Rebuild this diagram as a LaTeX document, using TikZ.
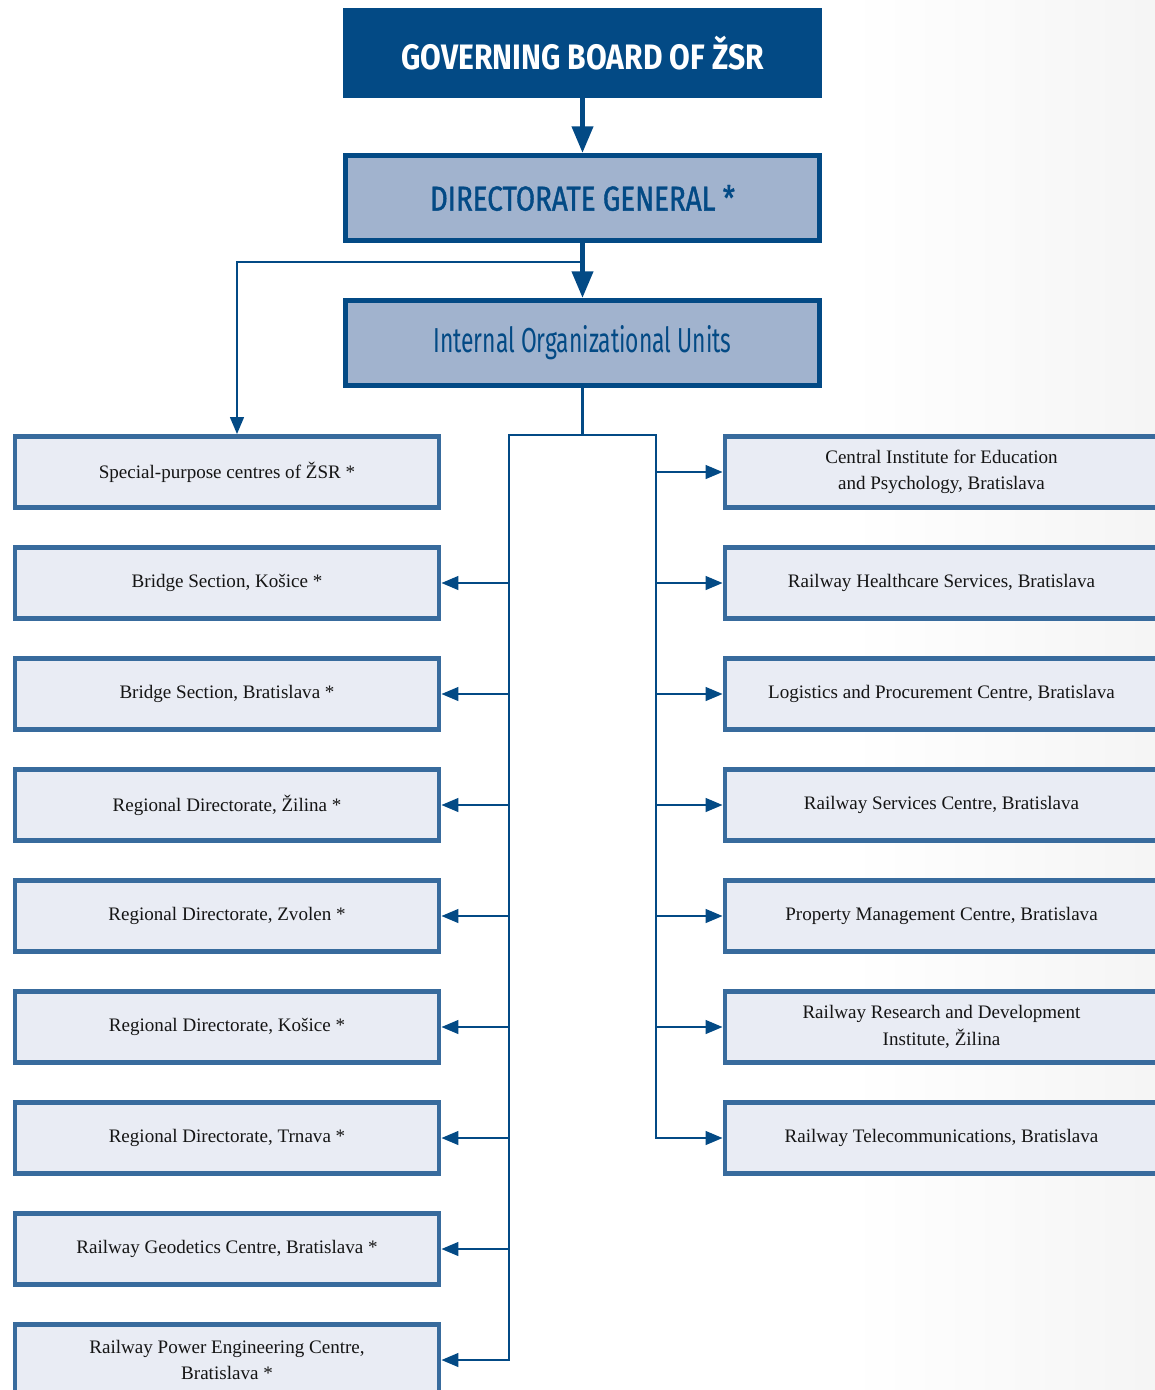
\documentclass[tikz,border=0pt]{standalone}
\usepackage{fontspec}
\setmainfont{Liberation Serif}
\newfontfamily\headfont[FakeStretch=0.85]{Fira Sans}
\newfontfamily\dgfont[FakeStretch=0.8,FakeBold=1.2]{Fira Sans}
\newfontfamily\ioufont[FakeStretch=0.66]{Fira Sans}
\usetikzlibrary{arrows.meta}
\definecolor{dblue}{HTML}{034A85}
\definecolor{mblue}{HTML}{386B9D}
\definecolor{lfill}{HTML}{E9ECF4}
\definecolor{mfill}{HTML}{A1B3CE}
\definecolor{txt}{HTML}{151515}
\begin{document}
\begin{tikzpicture}[x=0.75pt,y=-0.75pt,
  topbox/.style={fill=dblue, draw=none, minimum width=359.25pt, minimum height=67.5pt, inner sep=0pt,
    text=white, font=\headfont\bfseries\fontsize{26.5}{30}\selectfont},
  midbox/.style={fill=mfill, draw=dblue, line width=3.75pt, minimum width=355.5pt, minimum height=63.75pt, inner sep=0pt,
    text=dblue},
  unitbox/.style={fill=lfill, draw=mblue, line width=3.4pt, minimum width=318pt, minimum height=53.25pt,
    inner sep=0pt, align=center, text=txt, font=\fontsize{14.3}{20}\selectfont},
  runitbox/.style={unitbox, minimum width=324.75pt},
  bigarr/.style={draw=dblue, line width=3.75pt, -{Triangle[length=20pt,width=15.5pt]}},
  conn/.style={draw=dblue, line width=2.2pt},
  arr/.style={conn, -{Triangle[length=12.75pt,width=10pt]}},
]
\useasboundingbox (0,0) rectangle (1155,1390);
\clip (0,0) rectangle (1155,1390);
\shade[left color=white, right color=black!4] (850,0) rectangle (1155,1390);

\node[topbox] (gb) at (582.5,53) {GOVERNING BOARD OF ŽSR};
\node[midbox, font=\dgfont\fontsize{26}{30}\selectfont] (dg) at (582.5,198) {DIRECTORATE GENERAL *};
\node[midbox, font=\ioufont\fontsize{26}{30}\selectfont] (iou) at (582.5,343) {Internal Organizational Units};

\node[unitbox] (l1) at (227,472) {Special-purpose centres of ŽSR *};
\node[unitbox] (l2) at (227,583) {Bridge Section, Košice *};
\node[unitbox] (l3) at (227,694) {Bridge Section, Bratislava *};
\node[unitbox] (l4) at (227,805) {Regional Directorate, Žilina *};
\node[unitbox] (l5) at (227,916) {Regional Directorate, Zvolen *};
\node[unitbox] (l6) at (227,1027) {Regional Directorate, Košice *};
\node[unitbox] (l7) at (227,1138) {Regional Directorate, Trnava *};
\node[unitbox] (l8) at (227,1249) {Railway Geodetics Centre, Bratislava *};
\node[unitbox] (l9) at (227,1360) {Railway Power Engineering Centre,\\Bratislava *};

\node[runitbox] (r1) at (941.5,472) {Central Institute for Education\\and Psychology, Bratislava};
\node[runitbox] (r2) at (941.5,583) {Railway Healthcare Services, Bratislava};
\node[runitbox] (r3) at (941.5,694) {Logistics and Procurement Centre, Bratislava};
\node[runitbox] (r4) at (941.5,805) {Railway Services Centre, Bratislava};
\node[runitbox] (r5) at (941.5,916) {Property Management Centre, Bratislava};
\node[runitbox] (r6) at (941.5,1027) {Railway Research and Development\\Institute, Žilina};
\node[runitbox] (r7) at (941.5,1138) {Railway Telecommunications, Bratislava};

\draw[bigarr] (gb.south) -- (dg.north);
\draw[bigarr] (dg.south) -- (iou.north);

\coordinate (j1) at (582,262);
\draw[arr] (j1) -| ([xshift=7.5pt]l1.north);

\coordinate (jt) at (582.5,435);
\coordinate (tl) at (509,435);
\coordinate (tr) at (656,435);
\draw[conn] (iou.south) -- (jt);
\draw[conn, line cap=rect] (tl) -- (tr);
\foreach \i in {2,...,9} {\draw[arr] (tl) |- (l\i.east);}
\foreach \i in {1,...,7} {\draw[arr] (tr) |- (r\i.west);}
\end{tikzpicture}
\end{document}
